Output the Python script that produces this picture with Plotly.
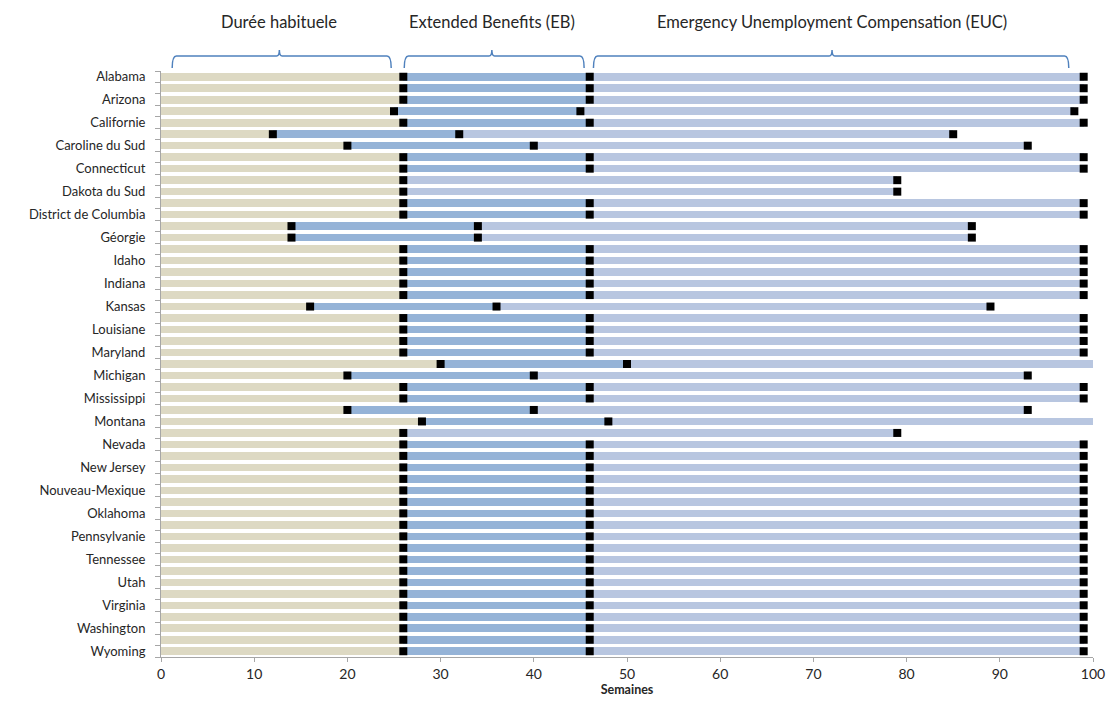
import plotly.graph_objects as go

# States in French alphabetical order (top to bottom)
states = [
    "Alabama", "Alaska", "Arizona", "Arkansas", "Californie", "Caroline du Nord",
    "Caroline du Sud", "Colorado", "Connecticut", "Dakota du Nord", "Dakota du Sud",
    "Delaware", "District de Columbia", "Floride", "Géorgie", "Hawaï", "Idaho",
    "Illinois", "Indiana", "Iowa", "Kansas", "Kentucky", "Louisiane", "Maine",
    "Maryland", "Massachusetts", "Michigan", "Minnesota", "Mississippi", "Missouri",
    "Montana", "Nebraska", "Nevada", "New Hampshire", "New Jersey", "New York",
    "Nouveau-Mexique", "Ohio", "Oklahoma", "Oregon", "Pennsylvanie", "Rhode Island",
    "Tennessee", "Texas", "Utah", "Vermont", "Virginia", "Virginie-Occidentale",
    "Washington", "Wisconsin", "Wyoming",
]

# Weeks of regular state benefits
regular = [
    26, 26, 26, 25, 26, 12, 20, 26, 26, 26, 26, 26, 26, 14, 14, 26, 26,
    26, 26, 26, 16, 26, 26, 26, 26, 30, 20, 26, 26, 20, 28, 26, 26, 26,
    26, 26, 26, 26, 26, 26, 26, 26, 26, 26, 26, 26, 26, 26, 26, 26, 26,
]

# Weeks of Extended Benefits (EB)
eb = [
    20, 20, 20, 20, 20, 20, 20, 20, 20, 0, 0, 20, 20, 20, 20, 20, 20,
    20, 20, 20, 20, 20, 20, 20, 20, 20, 20, 20, 20, 20, 20, 0, 20, 20,
    20, 20, 20, 20, 20, 20, 20, 20, 20, 20, 20, 20, 20, 20, 20, 20, 20,
]

# Weeks of Emergency Unemployment Compensation (EUC)
euc = [53] * len(states)

x_ticks = [0, 10, 20, 30, 40, 50, 60, 70, 80, 90, 100]

C_REG = "#DDD9C3"
C_EB = "#95B3D7"
C_EUC = "#B8C6E0"
TEXT = "#262626"
AXIS = "#A6A6A6"
FONT = "Lato"

rows = list(range(len(states)))

fig = go.Figure()
for vals, col in [(regular, C_REG), (eb, C_EB), (euc, C_EUC)]:
    fig.add_trace(go.Bar(
        y=rows, x=vals, orientation="h", marker=dict(color=col, line=dict(width=0)),
        width=0.66, showlegend=False, hoverinfo="x+y",
    ))

# Black squares at the end of each benefit phase
mx, my = [], []
for i in rows:
    r, e, u = regular[i], eb[i], euc[i]
    mx.append(r); my.append(i)
    if e > 0:
        mx.append(r + e); my.append(i)
    mx.append(r + e + u); my.append(i)
fig.add_trace(go.Scatter(
    x=mx, y=my, mode="markers", showlegend=False, cliponaxis=True,
    marker=dict(symbol="square", size=8, color="black", line=dict(width=0)),
))

# Curly braces above the plot
def brace(x0, xc, x1, yb=1.0051, yl=1.0256, yt=1.0358, r=0.45, t=0.3):
    return (
        f"M {x0},{yb} Q {x0},{yl} {x0 + r},{yl} "
        f"L {xc - t},{yl} Q {xc},{yl} {xc},{yt} "
        f"Q {xc},{yl} {xc + t},{yl} "
        f"L {x1 - r},{yl} Q {x1},{yl} {x1},{yb}"
    )

groups = [
    ("Durée habituele", 1.2, 12.7, 24.7),
    ("Extended Benefits (EB)", 26.1, 35.5, 45.4),
    ("Emergency Unemployment Compensation (EUC)", 46.4, 72.0, 97.4),
]
shapes, annotations = [], []
for label, a, c, b in groups:
    shapes.append(dict(type="path", xref="x", yref="paper", path=brace(a, c, b),
                       line=dict(color="#4F81BD", width=1.5)))
    annotations.append(dict(text=label, x=c, y=1.084, xref="x", yref="paper",
                            showarrow=False, xanchor="center", yanchor="middle",
                            font=dict(family=FONT, size=16.5, color=TEXT)))

fig.update_layout(
    width=1106, height=707,
    margin=dict(l=161, r=13, t=71, b=50, autoexpand=False),
    paper_bgcolor="white", plot_bgcolor="white",
    barmode="stack", bargap=0.34,
    font=dict(family=FONT, size=13, color=TEXT),
    shapes=shapes, annotations=annotations,
)
fig.update_xaxes(
    range=[0, 100], tickvals=x_ticks, ticks="outside", ticklen=4, tickcolor=AXIS,
    showline=True, linecolor=AXIS, linewidth=1, showgrid=False, zeroline=False,
    automargin=False,
    tickfont=dict(family=FONT, size=14, color=TEXT),
    title=dict(text="<b>Semaines</b>", font=dict(family=FONT, size=12.5, color=TEXT), standoff=3),
)
fig.update_yaxes(
    range=[len(states) - 0.5, -0.5], automargin=False,
    tickmode="array", tickvals=rows[::2], ticktext=states[::2],
    ticks="", ticklabelstandoff=12,
    minor=dict(tickmode="linear", tick0=0.5, dtick=1, ticks="outside", ticklen=5, tickcolor=AXIS),
    showline=True, linecolor=AXIS, linewidth=1, showgrid=False, zeroline=False,
    tickfont=dict(family=FONT, size=13, color=TEXT),
)

fig.write_html("out.html")
